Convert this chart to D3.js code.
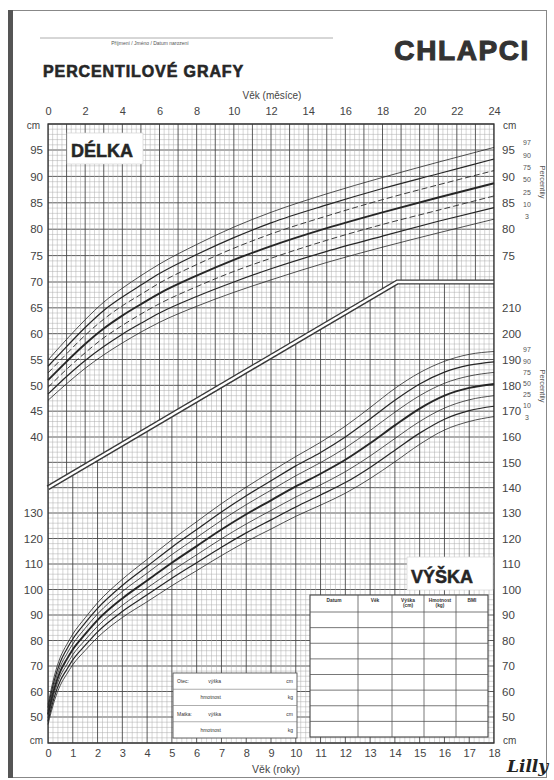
<!DOCTYPE html>
<html>
<head>
<meta charset="utf-8">
<script src="https://cdn.jsdelivr.net/npm/d3@7"></script>
<style>
  body { margin: 0; background: #fff; }
  svg { display: block; font-family: "Liberation Sans", Arial, sans-serif; }
</style>
</head>
<body>
<svg id="chart" width="554" height="780"></svg>
<script>
// percentiles drawn on both panels
const percentiles = [97, 90, 75, 50, 25, 10, 3];

// DÉLKA (length, cm) by age in months
const months = [0, 1, 2, 3, 4, 5, 6, 8, 10, 12, 15, 18, 21, 24];
const len97 = [54.9, 58.9, 62.7, 66.1, 68.8, 71.2, 73.4, 77.1, 80.4, 83.2, 86.7, 89.8, 92.7, 95.5];
const len90 = [53.7, 57.5, 61.2, 64.5, 67.1, 69.4, 71.6, 75.2, 78.4, 81.2, 84.6, 87.7, 90.5, 93.3];
const len75 = [52.4, 56.1, 59.7, 62.8, 65.4, 67.6, 69.8, 73.3, 76.4, 79.1, 82.5, 85.6, 88.4, 91.1];
const len50 = [51.0, 54.6, 58.0, 61.0, 63.5, 65.7, 67.8, 71.2, 74.2, 76.8, 80.2, 83.2, 86.0, 88.7];
const len25 = [49.6, 53.1, 56.3, 59.2, 61.6, 63.8, 65.8, 69.1, 72.0, 74.5, 77.9, 80.9, 83.6, 86.3];
const len10 = [48.3, 51.7, 54.8, 57.5, 59.9, 62.0, 64.0, 67.2, 70.0, 72.5, 75.8, 78.7, 81.5, 84.1];
const len3  = [47.1, 50.3, 53.3, 55.9, 58.2, 60.3, 62.2, 65.3, 68.0, 70.4, 73.7, 76.6, 79.3, 81.9];

// VÝŠKA (height, cm) by age in years
const ages = [0, 0.25, 0.5, 0.75, 1, 1.5, 2, 3, 4, 5, 6, 7, 8, 9, 10, 11, 12, 13, 14, 15, 16, 17, 18];
const hgt97 = [54.9, 65.9, 73.5, 78.3, 82.5, 88.9, 94.8, 104.0, 111.8, 119.5, 126.6, 133.7, 140.2, 146.3, 152.3, 157.9, 164.2, 171.4, 178.8, 184.9, 189.3, 192.0, 193.1];
const hgt90 = [53.7, 64.3, 71.7, 76.5, 80.6, 86.9, 92.6, 101.6, 109.1, 116.6, 123.5, 130.4, 136.8, 142.7, 148.6, 153.9, 160.0, 167.0, 174.2, 180.5, 185.1, 187.8, 189.1];
const hgt75 = [52.4, 62.7, 69.9, 74.6, 78.6, 84.8, 90.4, 99.2, 106.4, 113.7, 120.4, 127.1, 133.3, 139.0, 144.7, 149.9, 155.7, 162.5, 169.6, 176.0, 180.8, 183.6, 185.0];
const hgt50 = [51.0, 61.0, 68.0, 72.5, 76.5, 82.5, 88.0, 96.5, 103.5, 110.5, 117.0, 123.5, 129.5, 135.0, 140.5, 145.5, 151.0, 157.5, 164.5, 171.0, 176.0, 179.0, 180.5];
const hgt25 = [49.6, 59.3, 66.1, 70.4, 74.4, 80.2, 85.6, 93.8, 100.6, 107.3, 113.6, 119.9, 125.7, 131.0, 136.3, 141.1, 146.3, 152.5, 159.4, 166.0, 171.2, 174.4, 176.0];
const hgt10 = [48.3, 57.7, 64.3, 68.5, 72.4, 78.1, 83.4, 91.4, 97.9, 104.4, 110.5, 116.6, 122.2, 127.3, 132.4, 137.1, 142.0, 148.0, 154.8, 161.5, 166.9, 170.2, 171.9];
const hgt3  = [47.1, 56.1, 62.5, 66.7, 70.5, 76.1, 81.2, 89.0, 95.2, 101.5, 107.4, 113.3, 118.8, 123.7, 128.7, 133.1, 137.8, 143.6, 150.2, 157.1, 162.7, 166.0, 167.9];

// double band splitting the two panels (months, height cm)
const bandMonths = [0, 18.8, 24];
const bandHeight = [140, 220, 220];

// tick labels
const monthTicks = d3.range(0, 25, 2);
const yearTicks = d3.range(0, 19, 1);
const lenTicksLeft = d3.range(40, 96, 5);
const lenTicksRight = [75, 80, 85, 90, 95];
const hgtTicksLeft = d3.range(50, 131, 10);
const hgtTicksRight = d3.range(50, 211, 10);

const tableCols = [["Datum"], ["Věk"], ["Výška", "(cm)"], ["Hmotnost", "(kg)"], ["BMI"]];
const parentRows = [["Otec:", "výška", "cm"], ["", "hmotnost", "kg"], ["Matka:", "výška", "cm"], ["", "hmotnost", "kg"]];

const lenSeries = [len97, len90, len75, len50, len25, len10, len3];
const hgtSeries = [hgt97, hgt90, hgt75, hgt50, hgt25, hgt10, hgt3];

const svg = d3.select("#chart");
const x0 = 48, x1 = 494, yTop = 124, yBottom = 743;
const ink = "#262626";

const xMonth = d3.scaleLinear().domain([0, 24]).range([x0, x1]);
const xYear = d3.scaleLinear().domain([0, 18]).range([x0, x1]);
// scanned paper is a little uneven, so the height scale is polylinear
const y = d3.scaleLinear()
  .domain([40, 50, 130, 160, 220, 270, 280])
  .range([yBottom, 717, 513, 437, 282, 150, yTop]);
// length shares the same paper: 1 cm of length = 2 cm of height
const yLen = d3.scaleLinear().domain(y.domain().map(h => (h - 80) / 2)).range(y.range());

// page frame
svg.append("rect").attr("x", 10.5).attr("y", 10.5).attr("width", 536).attr("height", 767)
  .attr("fill", "none").attr("stroke", "#888").attr("stroke-width", 1);
svg.append("rect").attr("x", 8).attr("y", 10).attr("width", 5).attr("height", 768).attr("fill", "#555");

// header
svg.append("line").attr("x1", 40).attr("x2", 333).attr("y1", 38).attr("y2", 38)
  .attr("stroke", "#999").attr("stroke-width", 0.8);
svg.append("text").attr("x", 150).attr("y", 45).attr("text-anchor", "middle")
  .attr("font-size", 5).attr("fill", "#555").text("Příjmení / Jméno / Datum narození");
svg.append("text").attr("x", 43).attr("y", 77).attr("font-size", 16).attr("font-weight", "bold")
  .attr("letter-spacing", 0.9).attr("stroke", ink).attr("stroke-width", 0.6)
  .attr("fill", ink).text("PERCENTILOVÉ GRAFY");
svg.append("text").attr("x", 530).attr("y", 60).attr("text-anchor", "end").attr("font-size", 28)
  .attr("letter-spacing", 1.6).attr("stroke", "#333").attr("stroke-width", 1.1)
  .attr("font-weight", "bold").attr("fill", "#333").text("CHLAPCI");
svg.append("text").attr("x", 272).attr("y", 99).attr("text-anchor", "middle").attr("font-size", 10)
  .attr("fill", "#444").text("Věk (měsíce)");

// clip regions above / below the band
const bandPts = bandMonths.map((m, i) => [xMonth(m), y(bandHeight[i])]);
const defs = svg.append("defs");
defs.append("clipPath").attr("id", "clip-top").append("polygon")
  .attr("points", [[x0, yTop], [x1, yTop], ...bandPts.slice().reverse()].join(" "));
defs.append("clipPath").attr("id", "clip-bottom").append("polygon")
  .attr("points", [...bandPts, [x1, yBottom], [x0, yBottom]].join(" "));

// grid
const grid = svg.append("g");
const hLines = d3.range(40, 281, 2);
const monthLines = d3.range(0, 97).map(i => i / 4);
const yearLines = d3.range(0, 91).map(i => i / 5);

function drawGrid(g, lines, isMajor) {
  g.append("g").selectAll("line").data(lines.filter(d => !isMajor(d))).join("line")
    .attr("stroke", "#adadad").attr("stroke-width", 0.5);
  g.append("g").selectAll("line").data(lines.filter(isMajor)).join("line")
    .attr("stroke", "#4a4a4a").attr("stroke-width", 0.9);
  return g.selectAll("line");
}

drawGrid(grid.append("g"), hLines, d => d % 10 === 0)
  .attr("x1", x0).attr("x2", x1).attr("y1", d => y(d)).attr("y2", d => y(d));
drawGrid(grid.append("g").attr("clip-path", "url(#clip-top)"), monthLines, d => d % 1 === 0)
  .attr("x1", d => xMonth(d)).attr("x2", d => xMonth(d)).attr("y1", yTop).attr("y2", yBottom);
drawGrid(grid.append("g").attr("clip-path", "url(#clip-bottom)"), yearLines, d => Math.abs(d - Math.round(d)) < 1e-6)
  .attr("x1", d => xYear(d)).attr("x2", d => xYear(d)).attr("y1", yTop).attr("y2", yBottom);

// double band
const bandLine = d3.line().x((d, i) => xMonth(bandMonths[i])).y(d => y(d));
svg.append("path").datum(bandHeight).attr("d", bandLine).attr("fill", "none")
  .attr("stroke", "#3a3a3a").attr("stroke-width", 5.2);
svg.append("path").datum(bandHeight).attr("d", bandLine).attr("fill", "none")
  .attr("stroke", "#fff").attr("stroke-width", 2.4);

// plot frame
svg.append("rect").attr("x", x0).attr("y", yTop).attr("width", x1 - x0).attr("height", yBottom - yTop)
  .attr("fill", "none").attr("stroke", "#333").attr("stroke-width", 1.3);

// percentile curves
const styleOf = {
  97: {w: 0.8, dash: null}, 90: {w: 1.2, dash: null}, 75: {w: 0.9, dash: "6,3"},
  50: {w: 1.9, dash: null}, 25: {w: 0.9, dash: "6,3"}, 10: {w: 1.2, dash: null}, 3: {w: 0.8, dash: null}
};
const lenLine = d3.line().x((d, i) => xMonth(months[i])).y(d => yLen(d)).curve(d3.curveMonotoneX);
const hgtLine = d3.line().x((d, i) => xYear(ages[i])).y(d => y(d)).curve(d3.curveMonotoneX);

svg.append("g").selectAll("path").data(lenSeries).join("path")
  .attr("d", lenLine).attr("fill", "none").attr("stroke", ink)
  .attr("stroke-width", (d, i) => styleOf[percentiles[i]].w)
  .attr("stroke-dasharray", (d, i) => styleOf[percentiles[i]].dash);
svg.append("g").selectAll("path").data(hgtSeries).join("path")
  .attr("d", hgtLine).attr("fill", "none").attr("stroke", ink)
  .attr("stroke-width", (d, i) => percentiles[i] === 75 || percentiles[i] === 25 ? 0.8 : styleOf[percentiles[i]].w);

// axes
function styleAxis(g, size) {
  g.select(".domain").remove();
  g.selectAll("text").attr("fill", "#444").attr("font-size", size)
    .attr("font-family", "'Liberation Sans', Arial, sans-serif");
}
svg.append("g").attr("transform", `translate(0,${yTop})`)
  .call(d3.axisTop(xMonth).tickValues(monthTicks).tickSize(0).tickPadding(9))
  .call(g => styleAxis(g, 11));
svg.append("g").attr("transform", `translate(0,${yBottom})`)
  .call(d3.axisBottom(xYear).tickValues(yearTicks).tickSize(0).tickPadding(6))
  .call(g => styleAxis(g, 11));
svg.append("g").attr("transform", `translate(${x0},0)`)
  .call(d3.axisLeft(yLen).tickValues(lenTicksLeft).tickSize(0).tickPadding(5))
  .call(g => styleAxis(g, 11.5));
svg.append("g").attr("transform", `translate(${x0},0)`)
  .call(d3.axisLeft(y).tickValues(hgtTicksLeft).tickSize(0).tickPadding(5))
  .call(g => styleAxis(g, 11.5));
svg.append("g").attr("transform", `translate(${x1},0)`)
  .call(d3.axisRight(yLen).tickValues(lenTicksRight).tickSize(0).tickPadding(8))
  .call(g => styleAxis(g, 11.5));
svg.append("g").attr("transform", `translate(${x1},0)`)
  .call(d3.axisRight(y).tickValues(hgtTicksRight).tickSize(0).tickPadding(8))
  .call(g => styleAxis(g, 11.5));

// "cm" unit labels
[[40, 129, "end"], [503, 129, "start"], [43, 744, "end"], [503, 744, "start"]].forEach(([tx, ty, a]) => {
  svg.append("text").attr("x", tx).attr("y", ty).attr("text-anchor", a)
    .attr("font-size", 10).attr("fill", "#444").text("cm");
});
svg.append("text").attr("x", 276).attr("y", 773).attr("text-anchor", "middle").attr("font-size", 10.5)
  .attr("fill", "#444").text("Věk (roky)");

// percentile legends on the right
function legend(yStart, step, mid) {
  const g = svg.append("g").attr("fill", "#555").attr("font-size", 7);
  g.selectAll("text").data(percentiles).join("text")
    .attr("x", 527).attr("y", (d, i) => yStart + i * step).attr("dy", "0.35em")
    .attr("text-anchor", "middle").text(d => d);
  svg.append("text").attr("transform", `translate(540,${mid}) rotate(90)`)
    .attr("text-anchor", "middle").attr("font-size", 7.5).attr("fill", "#555").text("Percentily");
}
legend(143, 12.3, 182);
legend(350, 11.2, 386);

// panel titles
function panelTitle(bx, by, bw, bh, label) {
  svg.append("rect").attr("x", bx).attr("y", by).attr("width", bw).attr("height", bh)
    .attr("fill", "#fff").attr("stroke", "#ccc").attr("stroke-width", 0.6);
  svg.append("text").attr("x", bx + 4).attr("y", by + bh - 7).attr("font-size", 18)
    .attr("stroke", ink).attr("stroke-width", 0.5)
    .attr("font-weight", "bold").attr("fill", ink).text(label);
}
panelTitle(67, 133, 76, 31, "DÉLKA");
panelTitle(407, 557, 86, 33, "VÝŠKA");

// measurement table (bottom right)
const tx0 = 310, tx1 = 488, ty0 = 595, ty1 = 737, headH = 17, nRows = 8;
const colX = [310, 358, 392, 424, 456, 488];
const table = svg.append("g");
table.append("rect").attr("x", tx0).attr("y", ty0).attr("width", tx1 - tx0).attr("height", ty1 - ty0)
  .attr("fill", "#fff").attr("stroke", "#444").attr("stroke-width", 1.1);
table.selectAll("line.r").data(d3.range(0, nRows)).join("line")
  .attr("x1", tx0).attr("x2", tx1)
  .attr("y1", i => ty0 + headH + i * (ty1 - ty0 - headH) / nRows)
  .attr("y2", i => ty0 + headH + i * (ty1 - ty0 - headH) / nRows)
  .attr("stroke", "#555").attr("stroke-width", 0.8);
table.selectAll("line.c").data(colX.slice(1, -1)).join("line")
  .attr("x1", d => d).attr("x2", d => d).attr("y1", ty0).attr("y2", ty1)
  .attr("stroke", "#555").attr("stroke-width", 0.8);
tableCols.forEach((lines, c) => {
  lines.forEach((t, k) => {
    table.append("text").attr("x", (colX[c] + colX[c + 1]) / 2).attr("y", ty0 + 7 + k * 5)
      .attr("text-anchor", "middle").attr("font-size", 4.8).attr("font-weight", "bold")
      .attr("fill", "#333").text(t);
  });
});

// parents' table (bottom left)
const px0 = 173, px1 = 297, py0 = 673, py1 = 738;
const parents = svg.append("g");
parents.append("rect").attr("x", px0).attr("y", py0).attr("width", px1 - px0).attr("height", py1 - py0)
  .attr("fill", "#fff").attr("stroke", "#555").attr("stroke-width", 0.9);
parentRows.forEach((r, i) => {
  const rh = (py1 - py0) / parentRows.length, ry = py0 + i * rh;
  if (i > 0) parents.append("line").attr("x1", px0).attr("x2", px1).attr("y1", ry).attr("y2", ry)
    .attr("stroke", "#777").attr("stroke-width", 0.6);
  parents.append("text").attr("x", 177).attr("y", ry + rh / 2 + 2).attr("font-size", 5).attr("fill", "#333").text(r[0]);
  parents.append("text").attr("x", 221).attr("y", ry + rh / 2 + 2).attr("text-anchor", "end")
    .attr("font-size", 5).attr("fill", "#333").text(r[1]);
  parents.append("text").attr("x", 293).attr("y", ry + rh / 2 + 2).attr("text-anchor", "end")
    .attr("font-size", 5).attr("fill", "#333").text(r[2]);
});

// logo
svg.append("text").attr("x", 507).attr("y", 772).attr("font-family", "'DejaVu Serif', serif")
  .attr("font-style", "italic").attr("font-weight", "bold").attr("font-size", 17)
  .attr("fill", "#222").text("Lilly");
</script>
</body>
</html>
